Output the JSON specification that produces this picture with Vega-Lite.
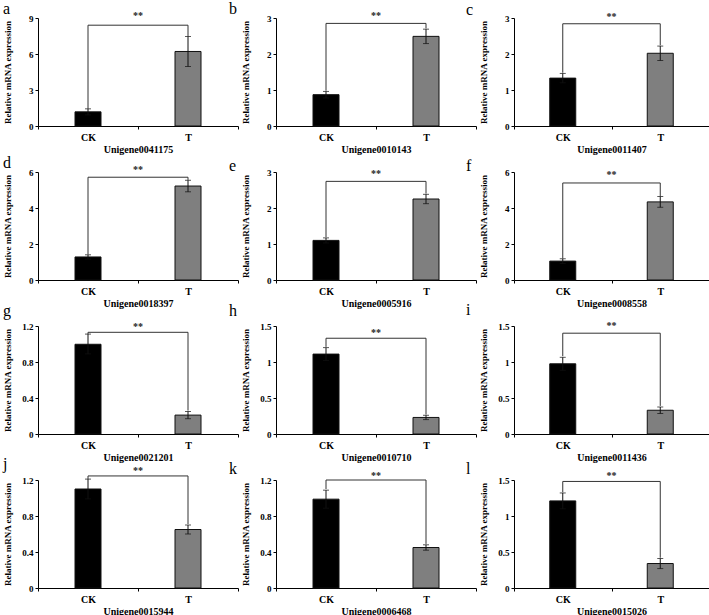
{
  "$schema": "https://vega.github.io/schema/vega-lite/v6.json",
  "background": "white",
  "padding": {"left": 2, "top": 0, "right": 0, "bottom": 0},
  "columns": 3,
  "bounds": "flush",
  "spacing": {"row": 46, "column": 38},
  "config": {
    "font": "Liberation Serif",
    "view": {"stroke": null},
    "axis": {"grid": false, "domainColor": "#000", "tickColor": "#000", "labelFont": "Liberation Serif", "titleFont": "Liberation Serif", "labelFontWeight": "bold", "titleFontWeight": "bold", "labelColor": "#000", "titleColor": "#000", "tickSize": 3, "domainWidth": 1},
    "axisY": {"labelFontSize": 9, "titleFontSize": 9, "labelPadding": 2, "labelOverlap": false, "labelExpr": "format(datum.value, '~g')"},
    "axisX": {"labelAngle": 0, "labelFontSize": 10, "titleFontSize": 10, "tickBand": "extent", "labelPadding": 3, "titlePadding": 2},
    "title": {"font": "Liberation Serif", "fontSize": 16, "fontWeight": "normal", "anchor": "start", "frame": "bounds", "color": "#000", "offset": -6},
    "text": {"font": "Liberation Serif", "fontSize": 10, "fontWeight": "bold", "color": "#222"},
    "line": {"color": "#333", "strokeWidth": 1},
    "rule": {"color": "#111"},
    "tick": {"color": "#111", "thickness": 1, "size": 6}
  },
  "concat": [
    {"title": {"text": "a"}, "width": 200, "height": 108, "layer": [
      {"data": {"values": [{"g": "CK", "v": 1.18, "lo": 0.93, "hi": 1.43}, {"g": "T", "v": 6.21, "lo": 4.96, "hi": 7.46}]},
       "encoding": {"x": {"field": "g", "type": "nominal", "title": "Unigene0041175", "scale": {"domain": ["CK", "T"], "paddingInner": 0, "paddingOuter": 0}}},
       "layer": [
        {"mark": {"type": "bar", "size": 26, "stroke": "#111", "strokeWidth": 1}, "encoding": {"y": {"field": "v", "type": "quantitative", "title": "Relative mRNA expression", "scale": {"domain": [0, 9], "nice": false}, "axis": {"values": [0, 3, 6, 9], "titleX": -26}}, "color": {"field": "g", "type": "nominal", "scale": {"domain": ["CK", "T"], "range": ["#000000", "#7f7f7f"]}, "legend": null}}},
        {"mark": "rule", "encoding": {"y": {"field": "lo", "type": "quantitative", "title": "Relative mRNA expression", "axis": {"values": [0, 3, 6, 9], "titleX": -26}}, "y2": {"field": "hi"}}},
        {"mark": "tick", "encoding": {"y": {"field": "hi", "type": "quantitative", "title": "Relative mRNA expression", "axis": {"values": [0, 3, 6, 9], "titleX": -26}}}},
        {"mark": "tick", "encoding": {"y": {"field": "lo", "type": "quantitative", "title": "Relative mRNA expression", "axis": {"values": [0, 3, 6, 9], "titleX": -26}}}}
       ]},
      {"data": {"values": [{"g": "CK", "y": 1.43, "o": 1}, {"g": "CK", "y": 8.4, "o": 2}, {"g": "T", "y": 8.4, "o": 3}, {"g": "T", "y": 7.46, "o": 4}]},
       "mark": "line", "encoding": {"x": {"field": "g", "type": "nominal", "title": "Unigene0041175"}, "y": {"field": "y", "type": "quantitative", "title": "Relative mRNA expression", "axis": {"values": [0, 3, 6, 9], "titleX": -26}}, "order": {"field": "o"}}},
      {"data": {"values": [{"s": "**", "y": 9.2}]}, "mark": "text", "encoding": {"text": {"field": "s"}, "y": {"field": "y", "type": "quantitative", "title": "Relative mRNA expression", "axis": {"values": [0, 3, 6, 9], "titleX": -26}}}}
    ]},
    {"title": {"text": "b", "dx": -12}, "width": 200, "height": 108, "layer": [
      {"data": {"values": [{"g": "CK", "v": 0.87, "lo": 0.78, "hi": 0.96}, {"g": "T", "v": 2.49, "lo": 2.29, "hi": 2.69}]},
       "encoding": {"x": {"field": "g", "type": "nominal", "title": "Unigene0010143", "scale": {"domain": ["CK", "T"], "paddingInner": 0, "paddingOuter": 0}}},
       "layer": [
        {"mark": {"type": "bar", "size": 26, "stroke": "#111", "strokeWidth": 1}, "encoding": {"y": {"field": "v", "type": "quantitative", "title": "Relative mRNA expression", "scale": {"domain": [0, 3], "nice": false}, "axis": {"values": [0, 1, 2, 3], "titleX": -26}}, "color": {"field": "g", "type": "nominal", "scale": {"domain": ["CK", "T"], "range": ["#000000", "#7f7f7f"]}, "legend": null}}},
        {"mark": "rule", "encoding": {"y": {"field": "lo", "type": "quantitative", "title": "Relative mRNA expression", "axis": {"values": [0, 1, 2, 3], "titleX": -26}}, "y2": {"field": "hi"}}},
        {"mark": "tick", "encoding": {"y": {"field": "hi", "type": "quantitative", "title": "Relative mRNA expression", "axis": {"values": [0, 1, 2, 3], "titleX": -26}}}},
        {"mark": "tick", "encoding": {"y": {"field": "lo", "type": "quantitative", "title": "Relative mRNA expression", "axis": {"values": [0, 1, 2, 3], "titleX": -26}}}}
       ]},
      {"data": {"values": [{"g": "CK", "y": 0.98, "o": 1}, {"g": "CK", "y": 2.85, "o": 2}, {"g": "T", "y": 2.85, "o": 3}, {"g": "T", "y": 2.71, "o": 4}]},
       "mark": "line", "encoding": {"x": {"field": "g", "type": "nominal", "title": "Unigene0010143"}, "y": {"field": "y", "type": "quantitative", "title": "Relative mRNA expression", "axis": {"values": [0, 1, 2, 3], "titleX": -26}}, "order": {"field": "o"}}},
      {"data": {"values": [{"s": "**", "y": 3.05}]}, "mark": "text", "encoding": {"text": {"field": "s"}, "y": {"field": "y", "type": "quantitative", "title": "Relative mRNA expression", "axis": {"values": [0, 1, 2, 3], "titleX": -26}}}}
    ]},
    {"title": {"text": "c", "dx": -13}, "width": 195, "height": 108, "layer": [
      {"data": {"values": [{"g": "CK", "v": 1.33, "lo": 1.2, "hi": 1.46}, {"g": "T", "v": 2.02, "lo": 1.82, "hi": 2.22}]},
       "encoding": {"x": {"field": "g", "type": "nominal", "title": "Unigene0011407", "scale": {"domain": ["CK", "T"], "paddingInner": 0, "paddingOuter": 0}}},
       "layer": [
        {"mark": {"type": "bar", "size": 26, "stroke": "#111", "strokeWidth": 1}, "encoding": {"y": {"field": "v", "type": "quantitative", "title": "Relative mRNA expression", "scale": {"domain": [0, 3], "nice": false}, "axis": {"values": [0, 1, 2, 3], "titleX": -26}}, "color": {"field": "g", "type": "nominal", "scale": {"domain": ["CK", "T"], "range": ["#000000", "#7f7f7f"]}, "legend": null}}},
        {"mark": "rule", "encoding": {"y": {"field": "lo", "type": "quantitative", "title": "Relative mRNA expression", "axis": {"values": [0, 1, 2, 3], "titleX": -26}}, "y2": {"field": "hi"}}},
        {"mark": "tick", "encoding": {"y": {"field": "hi", "type": "quantitative", "title": "Relative mRNA expression", "axis": {"values": [0, 1, 2, 3], "titleX": -26}}}},
        {"mark": "tick", "encoding": {"y": {"field": "lo", "type": "quantitative", "title": "Relative mRNA expression", "axis": {"values": [0, 1, 2, 3], "titleX": -26}}}}
       ]},
      {"data": {"values": [{"g": "CK", "y": 1.48, "o": 1}, {"g": "CK", "y": 2.84, "o": 2}, {"g": "T", "y": 2.84, "o": 3}, {"g": "T", "y": 2.24, "o": 4}]},
       "mark": "line", "encoding": {"x": {"field": "g", "type": "nominal", "title": "Unigene0011407"}, "y": {"field": "y", "type": "quantitative", "title": "Relative mRNA expression", "axis": {"values": [0, 1, 2, 3], "titleX": -26}}, "order": {"field": "o"}}},
      {"data": {"values": [{"s": "**", "y": 3.02}]}, "mark": "text", "encoding": {"text": {"field": "s"}, "y": {"field": "y", "type": "quantitative", "title": "Relative mRNA expression", "axis": {"values": [0, 1, 2, 3], "titleX": -26}}}}
    ]},
    {"title": {"text": "d"}, "width": 200, "height": 108, "layer": [
      {"data": {"values": [{"g": "CK", "v": 1.28, "lo": 1.16, "hi": 1.4}, {"g": "T", "v": 5.22, "lo": 4.9, "hi": 5.54}]},
       "encoding": {"x": {"field": "g", "type": "nominal", "title": "Unigene0018397", "scale": {"domain": ["CK", "T"], "paddingInner": 0, "paddingOuter": 0}}},
       "layer": [
        {"mark": {"type": "bar", "size": 26, "stroke": "#111", "strokeWidth": 1}, "encoding": {"y": {"field": "v", "type": "quantitative", "title": "Relative mRNA expression", "scale": {"domain": [0, 6], "nice": false}, "axis": {"values": [0, 2, 4, 6], "titleX": -26}}, "color": {"field": "g", "type": "nominal", "scale": {"domain": ["CK", "T"], "range": ["#000000", "#7f7f7f"]}, "legend": null}}},
        {"mark": "rule", "encoding": {"y": {"field": "lo", "type": "quantitative", "title": "Relative mRNA expression", "axis": {"values": [0, 2, 4, 6], "titleX": -26}}, "y2": {"field": "hi"}}},
        {"mark": "tick", "encoding": {"y": {"field": "hi", "type": "quantitative", "title": "Relative mRNA expression", "axis": {"values": [0, 2, 4, 6], "titleX": -26}}}},
        {"mark": "tick", "encoding": {"y": {"field": "lo", "type": "quantitative", "title": "Relative mRNA expression", "axis": {"values": [0, 2, 4, 6], "titleX": -26}}}}
       ]},
      {"data": {"values": [{"g": "CK", "y": 1.42, "o": 1}, {"g": "CK", "y": 5.71, "o": 2}, {"g": "T", "y": 5.71, "o": 3}, {"g": "T", "y": 5.56, "o": 4}]},
       "mark": "line", "encoding": {"x": {"field": "g", "type": "nominal", "title": "Unigene0018397"}, "y": {"field": "y", "type": "quantitative", "title": "Relative mRNA expression", "axis": {"values": [0, 2, 4, 6], "titleX": -26}}, "order": {"field": "o"}}},
      {"data": {"values": [{"s": "**", "y": 6.1}]}, "mark": "text", "encoding": {"text": {"field": "s"}, "y": {"field": "y", "type": "quantitative", "title": "Relative mRNA expression", "axis": {"values": [0, 2, 4, 6], "titleX": -26}}}}
    ]},
    {"title": {"text": "e", "dx": -12}, "width": 200, "height": 108, "layer": [
      {"data": {"values": [{"g": "CK", "v": 1.1, "lo": 1.03, "hi": 1.17}, {"g": "T", "v": 2.25, "lo": 2.12, "hi": 2.38}]},
       "encoding": {"x": {"field": "g", "type": "nominal", "title": "Unigene0005916", "scale": {"domain": ["CK", "T"], "paddingInner": 0, "paddingOuter": 0}}},
       "layer": [
        {"mark": {"type": "bar", "size": 26, "stroke": "#111", "strokeWidth": 1}, "encoding": {"y": {"field": "v", "type": "quantitative", "title": "Relative mRNA expression", "scale": {"domain": [0, 3], "nice": false}, "axis": {"values": [0, 1, 2, 3], "titleX": -26}}, "color": {"field": "g", "type": "nominal", "scale": {"domain": ["CK", "T"], "range": ["#000000", "#7f7f7f"]}, "legend": null}}},
        {"mark": "rule", "encoding": {"y": {"field": "lo", "type": "quantitative", "title": "Relative mRNA expression", "axis": {"values": [0, 1, 2, 3], "titleX": -26}}, "y2": {"field": "hi"}}},
        {"mark": "tick", "encoding": {"y": {"field": "hi", "type": "quantitative", "title": "Relative mRNA expression", "axis": {"values": [0, 1, 2, 3], "titleX": -26}}}},
        {"mark": "tick", "encoding": {"y": {"field": "lo", "type": "quantitative", "title": "Relative mRNA expression", "axis": {"values": [0, 1, 2, 3], "titleX": -26}}}}
       ]},
      {"data": {"values": [{"g": "CK", "y": 1.19, "o": 1}, {"g": "CK", "y": 2.74, "o": 2}, {"g": "T", "y": 2.74, "o": 3}, {"g": "T", "y": 2.4, "o": 4}]},
       "mark": "line", "encoding": {"x": {"field": "g", "type": "nominal", "title": "Unigene0005916"}, "y": {"field": "y", "type": "quantitative", "title": "Relative mRNA expression", "axis": {"values": [0, 1, 2, 3], "titleX": -26}}, "order": {"field": "o"}}},
      {"data": {"values": [{"s": "**", "y": 2.95}]}, "mark": "text", "encoding": {"text": {"field": "s"}, "y": {"field": "y", "type": "quantitative", "title": "Relative mRNA expression", "axis": {"values": [0, 1, 2, 3], "titleX": -26}}}}
    ]},
    {"title": {"text": "f", "dx": -13}, "width": 195, "height": 108, "layer": [
      {"data": {"values": [{"g": "CK", "v": 1.05, "lo": 0.92, "hi": 1.18}, {"g": "T", "v": 4.34, "lo": 4.04, "hi": 4.64}]},
       "encoding": {"x": {"field": "g", "type": "nominal", "title": "Unigene0008558", "scale": {"domain": ["CK", "T"], "paddingInner": 0, "paddingOuter": 0}}},
       "layer": [
        {"mark": {"type": "bar", "size": 26, "stroke": "#111", "strokeWidth": 1}, "encoding": {"y": {"field": "v", "type": "quantitative", "title": "Relative mRNA expression", "scale": {"domain": [0, 6], "nice": false}, "axis": {"values": [0, 2, 4, 6], "titleX": -26}}, "color": {"field": "g", "type": "nominal", "scale": {"domain": ["CK", "T"], "range": ["#000000", "#7f7f7f"]}, "legend": null}}},
        {"mark": "rule", "encoding": {"y": {"field": "lo", "type": "quantitative", "title": "Relative mRNA expression", "axis": {"values": [0, 2, 4, 6], "titleX": -26}}, "y2": {"field": "hi"}}},
        {"mark": "tick", "encoding": {"y": {"field": "hi", "type": "quantitative", "title": "Relative mRNA expression", "axis": {"values": [0, 2, 4, 6], "titleX": -26}}}},
        {"mark": "tick", "encoding": {"y": {"field": "lo", "type": "quantitative", "title": "Relative mRNA expression", "axis": {"values": [0, 2, 4, 6], "titleX": -26}}}}
       ]},
      {"data": {"values": [{"g": "CK", "y": 1.2, "o": 1}, {"g": "CK", "y": 5.39, "o": 2}, {"g": "T", "y": 5.39, "o": 3}, {"g": "T", "y": 4.66, "o": 4}]},
       "mark": "line", "encoding": {"x": {"field": "g", "type": "nominal", "title": "Unigene0008558"}, "y": {"field": "y", "type": "quantitative", "title": "Relative mRNA expression", "axis": {"values": [0, 2, 4, 6], "titleX": -26}}, "order": {"field": "o"}}},
      {"data": {"values": [{"s": "**", "y": 5.85}]}, "mark": "text", "encoding": {"text": {"field": "s"}, "y": {"field": "y", "type": "quantitative", "title": "Relative mRNA expression", "axis": {"values": [0, 2, 4, 6], "titleX": -26}}}}
    ]},
    {"title": {"text": "g", "dy": -9}, "width": 200, "height": 108, "layer": [
      {"data": {"values": [{"g": "CK", "v": 0.997, "lo": 0.89, "hi": 1.11}, {"g": "T", "v": 0.21, "lo": 0.17, "hi": 0.25}]},
       "encoding": {"x": {"field": "g", "type": "nominal", "title": "Unigene0021201", "scale": {"domain": ["CK", "T"], "paddingInner": 0, "paddingOuter": 0}}},
       "layer": [
        {"mark": {"type": "bar", "size": 26, "stroke": "#111", "strokeWidth": 1}, "encoding": {"y": {"field": "v", "type": "quantitative", "title": "Relative mRNA expression", "scale": {"domain": [0, 1.2], "nice": false}, "axis": {"values": [0, 0.4, 0.8, 1.2], "titleX": -26}}, "color": {"field": "g", "type": "nominal", "scale": {"domain": ["CK", "T"], "range": ["#000000", "#7f7f7f"]}, "legend": null}}},
        {"mark": "rule", "encoding": {"y": {"field": "lo", "type": "quantitative", "title": "Relative mRNA expression", "axis": {"values": [0, 0.4, 0.8, 1.2], "titleX": -26}}, "y2": {"field": "hi"}}},
        {"mark": "tick", "encoding": {"y": {"field": "hi", "type": "quantitative", "title": "Relative mRNA expression", "axis": {"values": [0, 0.4, 0.8, 1.2], "titleX": -26}}}},
        {"mark": "tick", "encoding": {"y": {"field": "lo", "type": "quantitative", "title": "Relative mRNA expression", "axis": {"values": [0, 0.4, 0.8, 1.2], "titleX": -26}}}}
       ]},
      {"data": {"values": [{"g": "CK", "y": 1.11, "o": 1}, {"g": "CK", "y": 1.13, "o": 2}, {"g": "T", "y": 1.13, "o": 3}, {"g": "T", "y": 0.26, "o": 4}]},
       "mark": "line", "encoding": {"x": {"field": "g", "type": "nominal", "title": "Unigene0021201"}, "y": {"field": "y", "type": "quantitative", "title": "Relative mRNA expression", "axis": {"values": [0, 0.4, 0.8, 1.2], "titleX": -26}}, "order": {"field": "o"}}},
      {"data": {"values": [{"s": "**", "y": 1.19}]}, "mark": "text", "encoding": {"text": {"field": "s"}, "y": {"field": "y", "type": "quantitative", "title": "Relative mRNA expression", "axis": {"values": [0, 0.4, 0.8, 1.2], "titleX": -26}}}}
    ]},
    {"title": {"text": "h", "dx": -12, "dy": -9}, "width": 200, "height": 108, "layer": [
      {"data": {"values": [{"g": "CK", "v": 1.11, "lo": 1.02, "hi": 1.2}, {"g": "T", "v": 0.23, "lo": 0.2, "hi": 0.26}]},
       "encoding": {"x": {"field": "g", "type": "nominal", "title": "Unigene0010710", "scale": {"domain": ["CK", "T"], "paddingInner": 0, "paddingOuter": 0}}},
       "layer": [
        {"mark": {"type": "bar", "size": 26, "stroke": "#111", "strokeWidth": 1}, "encoding": {"y": {"field": "v", "type": "quantitative", "title": "Relative mRNA expression", "scale": {"domain": [0, 1.5], "nice": false}, "axis": {"values": [0, 0.5, 1, 1.5], "titleX": -26}}, "color": {"field": "g", "type": "nominal", "scale": {"domain": ["CK", "T"], "range": ["#000000", "#7f7f7f"]}, "legend": null}}},
        {"mark": "rule", "encoding": {"y": {"field": "lo", "type": "quantitative", "title": "Relative mRNA expression", "axis": {"values": [0, 0.5, 1, 1.5], "titleX": -26}}, "y2": {"field": "hi"}}},
        {"mark": "tick", "encoding": {"y": {"field": "hi", "type": "quantitative", "title": "Relative mRNA expression", "axis": {"values": [0, 0.5, 1, 1.5], "titleX": -26}}}},
        {"mark": "tick", "encoding": {"y": {"field": "lo", "type": "quantitative", "title": "Relative mRNA expression", "axis": {"values": [0, 0.5, 1, 1.5], "titleX": -26}}}}
       ]},
      {"data": {"values": [{"g": "CK", "y": 1.21, "o": 1}, {"g": "CK", "y": 1.33, "o": 2}, {"g": "T", "y": 1.33, "o": 3}, {"g": "T", "y": 0.27, "o": 4}]},
       "mark": "line", "encoding": {"x": {"field": "g", "type": "nominal", "title": "Unigene0010710"}, "y": {"field": "y", "type": "quantitative", "title": "Relative mRNA expression", "axis": {"values": [0, 0.5, 1, 1.5], "titleX": -26}}, "order": {"field": "o"}}},
      {"data": {"values": [{"s": "**", "y": 1.4}]}, "mark": "text", "encoding": {"text": {"field": "s"}, "y": {"field": "y", "type": "quantitative", "title": "Relative mRNA expression", "axis": {"values": [0, 0.5, 1, 1.5], "titleX": -26}}}}
    ]},
    {"title": {"text": "i", "dx": -13, "dy": -9}, "width": 195, "height": 108, "layer": [
      {"data": {"values": [{"g": "CK", "v": 0.975, "lo": 0.885, "hi": 1.065}, {"g": "T", "v": 0.33, "lo": 0.285, "hi": 0.375}]},
       "encoding": {"x": {"field": "g", "type": "nominal", "title": "Unigene0011436", "scale": {"domain": ["CK", "T"], "paddingInner": 0, "paddingOuter": 0}}},
       "layer": [
        {"mark": {"type": "bar", "size": 26, "stroke": "#111", "strokeWidth": 1}, "encoding": {"y": {"field": "v", "type": "quantitative", "title": "Relative mRNA expression", "scale": {"domain": [0, 1.5], "nice": false}, "axis": {"values": [0, 0.5, 1, 1.5], "titleX": -26}}, "color": {"field": "g", "type": "nominal", "scale": {"domain": ["CK", "T"], "range": ["#000000", "#7f7f7f"]}, "legend": null}}},
        {"mark": "rule", "encoding": {"y": {"field": "lo", "type": "quantitative", "title": "Relative mRNA expression", "axis": {"values": [0, 0.5, 1, 1.5], "titleX": -26}}, "y2": {"field": "hi"}}},
        {"mark": "tick", "encoding": {"y": {"field": "hi", "type": "quantitative", "title": "Relative mRNA expression", "axis": {"values": [0, 0.5, 1, 1.5], "titleX": -26}}}},
        {"mark": "tick", "encoding": {"y": {"field": "lo", "type": "quantitative", "title": "Relative mRNA expression", "axis": {"values": [0, 0.5, 1, 1.5], "titleX": -26}}}}
       ]},
      {"data": {"values": [{"g": "CK", "y": 1.08, "o": 1}, {"g": "CK", "y": 1.4, "o": 2}, {"g": "T", "y": 1.4, "o": 3}, {"g": "T", "y": 0.39, "o": 4}]},
       "mark": "line", "encoding": {"x": {"field": "g", "type": "nominal", "title": "Unigene0011436"}, "y": {"field": "y", "type": "quantitative", "title": "Relative mRNA expression", "axis": {"values": [0, 0.5, 1, 1.5], "titleX": -26}}, "order": {"field": "o"}}},
      {"data": {"values": [{"s": "**", "y": 1.5}]}, "mark": "text", "encoding": {"text": {"field": "s"}, "y": {"field": "y", "type": "quantitative", "title": "Relative mRNA expression", "axis": {"values": [0, 0.5, 1, 1.5], "titleX": -26}}}}
    ]},
    {"title": {"text": "j"}, "width": 200, "height": 108, "layer": [
      {"data": {"values": [{"g": "CK", "v": 1.1, "lo": 0.99, "hi": 1.21}, {"g": "T", "v": 0.65, "lo": 0.6, "hi": 0.7}]},
       "encoding": {"x": {"field": "g", "type": "nominal", "title": "Unigene0015944", "scale": {"domain": ["CK", "T"], "paddingInner": 0, "paddingOuter": 0}}},
       "layer": [
        {"mark": {"type": "bar", "size": 26, "stroke": "#111", "strokeWidth": 1}, "encoding": {"y": {"field": "v", "type": "quantitative", "title": "Relative mRNA expression", "scale": {"domain": [0, 1.2], "nice": false}, "axis": {"values": [0, 0.4, 0.8, 1.2], "titleX": -26}}, "color": {"field": "g", "type": "nominal", "scale": {"domain": ["CK", "T"], "range": ["#000000", "#7f7f7f"]}, "legend": null}}},
        {"mark": "rule", "encoding": {"y": {"field": "lo", "type": "quantitative", "title": "Relative mRNA expression", "axis": {"values": [0, 0.4, 0.8, 1.2], "titleX": -26}}, "y2": {"field": "hi"}}},
        {"mark": "tick", "encoding": {"y": {"field": "hi", "type": "quantitative", "title": "Relative mRNA expression", "axis": {"values": [0, 0.4, 0.8, 1.2], "titleX": -26}}}},
        {"mark": "tick", "encoding": {"y": {"field": "lo", "type": "quantitative", "title": "Relative mRNA expression", "axis": {"values": [0, 0.4, 0.8, 1.2], "titleX": -26}}}}
       ]},
      {"data": {"values": [{"g": "CK", "y": 1.21, "o": 1}, {"g": "CK", "y": 1.245, "o": 2}, {"g": "T", "y": 1.245, "o": 3}, {"g": "T", "y": 0.71, "o": 4}]},
       "mark": "line", "encoding": {"x": {"field": "g", "type": "nominal", "title": "Unigene0015944"}, "y": {"field": "y", "type": "quantitative", "title": "Relative mRNA expression", "axis": {"values": [0, 0.4, 0.8, 1.2], "titleX": -26}}, "order": {"field": "o"}}},
      {"data": {"values": [{"s": "**", "y": 1.3}]}, "mark": "text", "encoding": {"text": {"field": "s"}, "y": {"field": "y", "type": "quantitative", "title": "Relative mRNA expression", "axis": {"values": [0, 0.4, 0.8, 1.2], "titleX": -26}}}}
    ]},
    {"title": {"text": "k", "dx": -12}, "width": 200, "height": 108, "layer": [
      {"data": {"values": [{"g": "CK", "v": 0.987, "lo": 0.887, "hi": 1.087}, {"g": "T", "v": 0.45, "lo": 0.42, "hi": 0.48}]},
       "encoding": {"x": {"field": "g", "type": "nominal", "title": "Unigene0006468", "scale": {"domain": ["CK", "T"], "paddingInner": 0, "paddingOuter": 0}}},
       "layer": [
        {"mark": {"type": "bar", "size": 26, "stroke": "#111", "strokeWidth": 1}, "encoding": {"y": {"field": "v", "type": "quantitative", "title": "Relative mRNA expression", "scale": {"domain": [0, 1.2], "nice": false}, "axis": {"values": [0, 0.4, 0.8, 1.2], "titleX": -26}}, "color": {"field": "g", "type": "nominal", "scale": {"domain": ["CK", "T"], "range": ["#000000", "#7f7f7f"]}, "legend": null}}},
        {"mark": "rule", "encoding": {"y": {"field": "lo", "type": "quantitative", "title": "Relative mRNA expression", "axis": {"values": [0, 0.4, 0.8, 1.2], "titleX": -26}}, "y2": {"field": "hi"}}},
        {"mark": "tick", "encoding": {"y": {"field": "hi", "type": "quantitative", "title": "Relative mRNA expression", "axis": {"values": [0, 0.4, 0.8, 1.2], "titleX": -26}}}},
        {"mark": "tick", "encoding": {"y": {"field": "lo", "type": "quantitative", "title": "Relative mRNA expression", "axis": {"values": [0, 0.4, 0.8, 1.2], "titleX": -26}}}}
       ]},
      {"data": {"values": [{"g": "CK", "y": 1.1, "o": 1}, {"g": "CK", "y": 1.2, "o": 2}, {"g": "T", "y": 1.2, "o": 3}, {"g": "T", "y": 0.49, "o": 4}]},
       "mark": "line", "encoding": {"x": {"field": "g", "type": "nominal", "title": "Unigene0006468"}, "y": {"field": "y", "type": "quantitative", "title": "Relative mRNA expression", "axis": {"values": [0, 0.4, 0.8, 1.2], "titleX": -26}}, "order": {"field": "o"}}},
      {"data": {"values": [{"s": "**", "y": 1.25}]}, "mark": "text", "encoding": {"text": {"field": "s"}, "y": {"field": "y", "type": "quantitative", "title": "Relative mRNA expression", "axis": {"values": [0, 0.4, 0.8, 1.2], "titleX": -26}}}}
    ]},
    {"title": {"text": "l", "dx": -13}, "width": 195, "height": 108, "layer": [
      {"data": {"values": [{"g": "CK", "v": 1.21, "lo": 1.1, "hi": 1.32}, {"g": "T", "v": 0.34, "lo": 0.27, "hi": 0.41}]},
       "encoding": {"x": {"field": "g", "type": "nominal", "title": "Unigene0015026", "scale": {"domain": ["CK", "T"], "paddingInner": 0, "paddingOuter": 0}}},
       "layer": [
        {"mark": {"type": "bar", "size": 26, "stroke": "#111", "strokeWidth": 1}, "encoding": {"y": {"field": "v", "type": "quantitative", "title": "Relative mRNA expression", "scale": {"domain": [0, 1.5], "nice": false}, "axis": {"values": [0, 0.5, 1, 1.5], "titleX": -26}}, "color": {"field": "g", "type": "nominal", "scale": {"domain": ["CK", "T"], "range": ["#000000", "#7f7f7f"]}, "legend": null}}},
        {"mark": "rule", "encoding": {"y": {"field": "lo", "type": "quantitative", "title": "Relative mRNA expression", "axis": {"values": [0, 0.5, 1, 1.5], "titleX": -26}}, "y2": {"field": "hi"}}},
        {"mark": "tick", "encoding": {"y": {"field": "hi", "type": "quantitative", "title": "Relative mRNA expression", "axis": {"values": [0, 0.5, 1, 1.5], "titleX": -26}}}},
        {"mark": "tick", "encoding": {"y": {"field": "lo", "type": "quantitative", "title": "Relative mRNA expression", "axis": {"values": [0, 0.5, 1, 1.5], "titleX": -26}}}}
       ]},
      {"data": {"values": [{"g": "CK", "y": 1.33, "o": 1}, {"g": "CK", "y": 1.48, "o": 2}, {"g": "T", "y": 1.48, "o": 3}, {"g": "T", "y": 0.42, "o": 4}]},
       "mark": "line", "encoding": {"x": {"field": "g", "type": "nominal", "title": "Unigene0015026"}, "y": {"field": "y", "type": "quantitative", "title": "Relative mRNA expression", "axis": {"values": [0, 0.5, 1, 1.5], "titleX": -26}}, "order": {"field": "o"}}},
      {"data": {"values": [{"s": "**", "y": 1.55}]}, "mark": "text", "encoding": {"text": {"field": "s"}, "y": {"field": "y", "type": "quantitative", "title": "Relative mRNA expression", "axis": {"values": [0, 0.5, 1, 1.5], "titleX": -26}}}}
    ]}
  ]
}
